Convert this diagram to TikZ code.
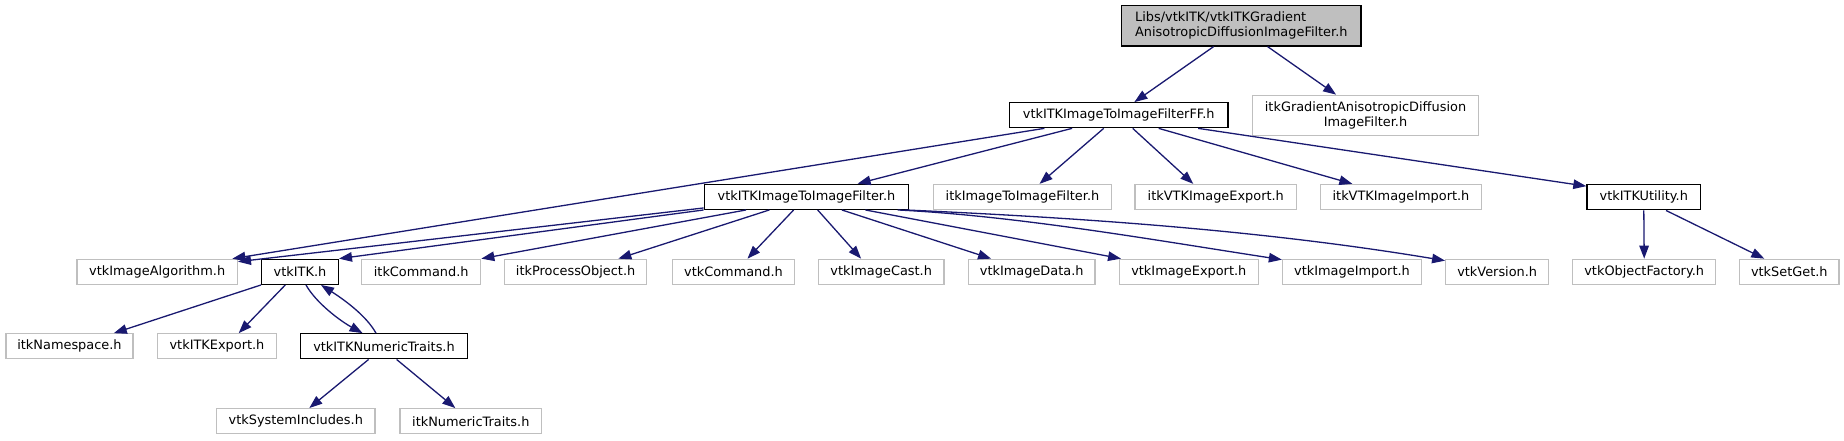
\documentclass[tikz,border=0pt]{standalone}
\usepackage{fontspec}
\setmainfont{DejaVu Sans}
\usetikzlibrary{arrows.meta}
\definecolor{edgeblue}{HTML}{191970}
\definecolor{boxgray}{HTML}{BFBFBF}
\begin{document}
\begin{tikzpicture}[x=1pt,y=-1pt,
  gbox/.style={draw=boxgray, line width=1.3pt, rectangle, minimum height=25pt, inner sep=2pt, font=\fontsize{12.9}{15}\selectfont},
  kbox/.style={gbox, draw=black},
  dep/.style={draw=edgeblue, line width=1.3pt, -{Triangle[length=13pt,width=9.5pt]}}]
\useasboundingbox (0,0) rectangle (1844,440);
% row 0
\node[kbox, fill=boxgray, minimum width=239.3pt, minimum height=40.3pt, align=left] (root) at (1241.3,25.8) {Libs/vtkITK/vtkITKGradient\\AnisotropicDiffusionImageFilter.h};
% row 1
\node[kbox, minimum width=218.7pt] (ff) at (1118.7,115.2) {vtkITKImageToImageFilterFF.h};
\node[gbox, minimum width=226.3pt, minimum height=40pt, align=center] (grad) at (1365.5,115.3) {itkGradientAnisotropicDiffusion\\ImageFilter.h};
% row 2
\node[kbox, minimum width=204.4pt] (vf) at (806.5,196.8) {vtkITKImageToImageFilter.h};
\node[gbox, minimum width=178pt] (iif) at (1022.5,197) {itkImageToImageFilter.h};
\node[gbox, minimum width=161.7pt] (ive) at (1215.8,197) {itkVTKImageExport.h};
\node[gbox, minimum width=161pt] (ivi) at (1401,197) {itkVTKImageImport.h};
\node[kbox, minimum width=113.7pt] (util) at (1643.8,197.3) {vtkITKUtility.h};
% row 3
\node[gbox, minimum width=160.3pt] (via) at (157.2,271.8) {vtkImageAlgorithm.h};
\node[kbox, minimum width=76.7pt] (vitk) at (300,271.8) {vtkITK.h};
\node[gbox, minimum width=119pt] (icmd) at (421.2,271.8) {itkCommand.h};
\node[gbox, minimum width=142pt] (ipo) at (575.6,271.8) {itkProcessObject.h};
\node[gbox, minimum width=122pt] (vcmd) at (733.5,271.8) {vtkCommand.h};
\node[gbox, minimum width=125.7pt] (vcast) at (881.2,271.8) {vtkImageCast.h};
\node[gbox, minimum width=126.7pt] (vdata) at (1031.7,271.8) {vtkImageData.h};
\node[gbox, minimum width=139pt] (vexp) at (1188.8,271.8) {vtkImageExport.h};
\node[gbox, minimum width=139pt] (vimp) at (1352,271.8) {vtkImageImport.h};
\node[gbox, minimum width=103pt] (vver) at (1497.2,271.8) {vtkVersion.h};
\node[gbox, minimum width=143pt] (vof) at (1644.2,271.8) {vtkObjectFactory.h};
\node[gbox, minimum width=99.3pt] (vsg) at (1789.3,271.8) {vtkSetGet.h};
% row 4
\node[gbox, minimum width=127pt] (ins) at (69.5,346.3) {itkNamespace.h};
\node[gbox, minimum width=119.3pt] (vexport) at (217,346.3) {vtkITKExport.h};
\node[kbox, minimum width=166.7pt] (vnt) at (384,346.3) {vtkITKNumericTraits.h};
% row 5
\node[gbox, minimum width=158.3pt] (vsi) at (295.8,421.2) {vtkSystemIncludes.h};
\node[gbox, minimum width=141.7pt] (int) at (470.8,421.2) {itkNumericTraits.h};
% edges
\draw[dep] ([xshift=92.6pt]root.south west) -- ([xshift=125.7pt]ff.north west);
\draw[dep] ([xshift=146.6pt]root.south west) -- ([xshift=84.4pt]grad.north west);
\draw[dep] ([xshift=35.7pt]ff.south west) -- ([xshift=156pt]via.north west);
\draw[dep] ([xshift=63.4pt]ff.south west) -- ([xshift=154pt]vf.north west);
\draw[dep] ([xshift=95pt]ff.south west) -- ([xshift=106.7pt]iif.north west);
\draw[dep] ([xshift=124pt]ff.south west) -- ([xshift=59pt]ive.north west);
\draw[dep] ([xshift=150pt]ff.south west) -- ([xshift=32.5pt]ivi.north west);
\draw[dep] ([xshift=189.4pt]ff.south west) -- ([yshift=-2pt]util.north west);
\draw[dep] ([yshift=2pt]vf.south west) -- ([yshift=-3pt]via.north east);
\draw[dep] (vf.south west) -- (vitk.north east);
\draw[dep] ([xshift=42.4pt]vf.south west) -- (icmd.north east);
\draw[dep] ([xshift=65.7pt]vf.south west) -- ([xshift=114.4pt]ipo.north west);
\draw[dep] ([xshift=90pt]vf.south west) -- ([xshift=75.6pt]vcmd.north west);
\draw[dep] ([xshift=114pt]vf.south west) -- ([xshift=43.4pt]vcast.north west);
\draw[dep] ([xshift=138.2pt]vf.south west) -- ([xshift=23.4pt]vdata.north west);
\draw[dep] ([xshift=161.7pt]vf.south west) -- ([xshift=2.4pt]vexp.north west);
\draw[dep] ([xshift=194pt]vf.south west) .. controls +(120,6) and +(-130,-20) .. ([yshift=-1pt]vimp.north west);
\draw[dep] ([xshift=-4pt]vf.south east) .. controls +(180,8) and +(-180,-30) .. ([yshift=-2pt]vver.north west);
\draw[dep] (util.south) -- (vof.north);
\draw[dep] ([xshift=79.7pt]util.south west) -- ([xshift=25.3pt]vsg.north west);
\draw[dep] (vitk.south west) -- ([xshift=108.5pt]ins.north west);
\draw[dep] ([xshift=24.3pt]vitk.south west) -- ([xshift=82pt]vexport.north west);
\draw[dep] ([xshift=45pt]vitk.south west) .. controls +(10,18) and +(-22,-12) .. ([xshift=62.6pt]vnt.north west);
\draw[dep] ([xshift=76pt]vnt.north west) .. controls +(-10,-18) and +(22,14) .. ([xshift=60pt]vitk.south west);
\draw[dep] ([xshift=68.6pt]vnt.south west) -- ([xshift=93.3pt]vsi.north west);
\draw[dep] ([xshift=96.6pt]vnt.south west) -- ([xshift=56pt]int.north west);
\end{tikzpicture}
\end{document}
